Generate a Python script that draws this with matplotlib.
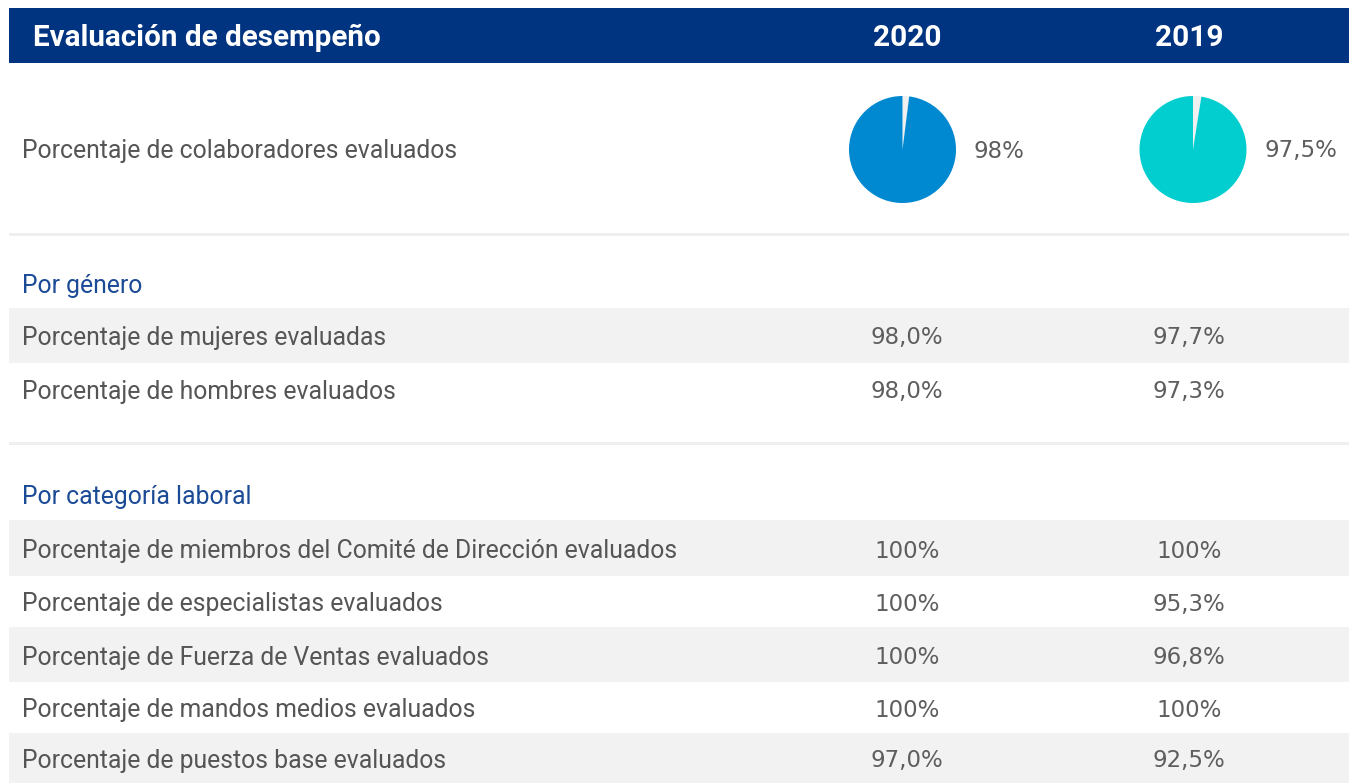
import matplotlib
matplotlib.use("Agg")
import matplotlib.pyplot as plt
from matplotlib.patches import Rectangle

# table content
title = "Evaluación de desempeño"
years = ["2020", "2019"]
pie_label = "Porcentaje de colaboradores evaluados"
pie_values = [98.0, 97.5]
pie_texts = ["98%", "97,5%"]

gender_title = "Por género"
gender_rows = ["Porcentaje de mujeres evaluadas", "Porcentaje de hombres evaluados"]
gender_2020 = ["98,0%", "98,0%"]
gender_2019 = ["97,7%", "97,3%"]

cat_title = "Por categoría laboral"
cat_rows = [
    "Porcentaje de miembros del Comité de Dirección evaluados",
    "Porcentaje de especialistas evaluados",
    "Porcentaje de Fuerza de Ventas evaluados",
    "Porcentaje de mandos medios evaluados",
    "Porcentaje de puestos base evaluados",
]
cat_2020 = ["100%", "100%", "100%", "100%", "97,0%"]
cat_2019 = ["100%", "95,3%", "96,8%", "100%", "92,5%"]

NAVY = "#003380"
SUB = "#1b4a96"
TEXT = "#555555"
NUMCOL = "#5e5e5e"
SHADE = "#f2f2f2"
PIE_COLORS = ["#0088d1", "#02cdcf"]
W, H = 1349, 783
col_x = [907, 1189]
FONT = "Roboto"
NUMFONT = "DejaVu Sans"
LBL = 17.8
NUM = 16.5
DY = 2  # small nudge so text sits like the reference

fig = plt.figure(figsize=(W / 100, H / 100), dpi=100)
ax = fig.add_axes([0, 0, 1, 1])
ax.set_xlim(0, W)
ax.set_ylim(H, 0)
ax.axis("off")


def label(x, y, s, color=TEXT):
    ax.text(x, y + DY, s, color=color, fontsize=LBL, family=FONT,
            va="center", ha="left")


def number(x, y, s, ha="center"):
    ax.text(x, y + DY, s, color=NUMCOL, fontsize=NUM, family=NUMFONT,
            va="center", ha=ha)


# header
ax.add_patch(Rectangle((9, 8), W - 9, 55, color=NAVY, lw=0))
ax.text(33, 36 + DY, title, color="white", fontsize=21.3, fontweight="bold",
        family=FONT, va="center", ha="left")
for x, y in zip(col_x, years):
    ax.text(x, 36 + DY, y, color="white", fontsize=21.5, fontweight="bold",
            family=FONT, va="center", ha="center")

# pie row
label(22, 149, pie_label)
pie_centers = [902.5, 1193]
for cx, val, txt, col in zip(pie_centers, pie_values, pie_texts, PIE_COLORS):
    r = 53.5
    pax = fig.add_axes([(cx - r) / W, 1 - (149.5 + r) / H, 2 * r / W, 2 * r / H])
    pax.pie([100 - val, val], colors=["#f0f0f0", col], startangle=90,
            counterclock=False, wedgeprops=dict(linewidth=0))
    pax.set_xlim(-1, 1)
    pax.set_ylim(-1, 1)
    pax.set_aspect("equal")
    number(cx + 71, 149, txt, ha="left")

# separators
for ysep in [234.5, 443.5]:
    ax.add_patch(Rectangle((9, ysep - 1.5), W - 9, 3, color="#efefef", lw=0))

# gender block
label(22, 284, gender_title, color=SUB)
g_bands = [(308, 363), (363, 416)]
for i, (lbl, a, b) in enumerate(zip(gender_rows, gender_2020, gender_2019)):
    y0, y1 = g_bands[i]
    if i % 2 == 0:
        ax.add_patch(Rectangle((9, y0), W - 9, y1 - y0, color=SHADE, lw=0))
    yc = (y0 + y1) / 2
    label(22, yc, lbl)
    for x, v in zip(col_x, [a, b]):
        number(x, yc, v)

# category block
label(22, 495, cat_title, color=SUB)
c_bands = [(520, 576), (576, 627), (627, 682), (682, 733), (733, 783)]
for i, (lbl, a, b) in enumerate(zip(cat_rows, cat_2020, cat_2019)):
    y0, y1 = c_bands[i]
    if i % 2 == 0:
        ax.add_patch(Rectangle((9, y0), W - 9, y1 - y0, color=SHADE, lw=0))
    yc = (y0 + y1) / 2 + 1
    label(22, yc, lbl)
    for x, v in zip(col_x, [a, b]):
        number(x, yc, v)

fig.savefig("out.png", dpi=100)
